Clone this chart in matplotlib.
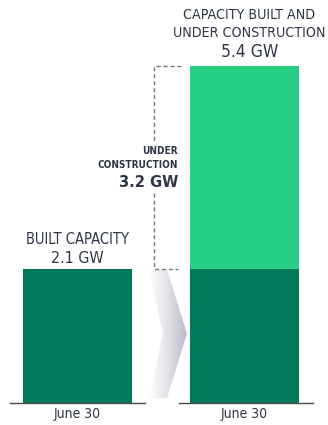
import matplotlib
matplotlib.use("Agg")
import matplotlib.pyplot as plt
import numpy as np
from matplotlib.patches import Polygon
from matplotlib.colors import LinearSegmentedColormap

categories = ["June 30", "June 30"]
built = [2.1, 2.1]
under_construction = [0, 3.2]
label_built = ["BUILT CAPACITY", "2.1 GW"]
label_under = ["UNDER", "CONSTRUCTION", "3.2 GW"]
label_total = ["CAPACITY BUILT AND", "UNDER CONSTRUCTION", "5.4 GW"]

plt.rcParams["font.family"] = ["DejaVu Sans"]
plt.rcParams["font.stretch"] = "condensed"

DARK = "#007a5a"
LIGHT = "#26cf84"
TXT = "#2f3747"

W, H = 328, 425
fig = plt.figure(figsize=(W / 100, H / 100), dpi=100)
ax = fig.add_axes([0, 0, 1, 1])
ax.axis("off")

px_x = 167.0
x0 = 77.5
total = built[1] + under_construction[1]
px_y = (403 - 66) / total
ax.set_xlim(-x0 / px_x, (W - x0) / px_x)
ax.set_ylim(-(H - 403) / px_y, 403 / px_y)

x = np.arange(len(categories))
width = 109 / px_x
ax.bar(x, built, width=width, color=DARK, zorder=3)
ax.bar(x, under_construction, bottom=built, width=width, color=LIGHT, zorder=3)

def dx(p):
    return p / px_x

def dy(p):
    return p / px_y

kw = dict(textcoords="offset points", color=TXT, fontstretch="condensed")

# baselines
ax.plot([x[0] - dx(67.5), x[0] + dx(67.5)], [0, 0], color="#4a4a4a", lw=1, zorder=4)
ax.plot([x[1] - dx(65.5), x[1] + dx(68.5)], [0, 0], color="#4a4a4a", lw=1, zorder=4)

# x labels
for xi, c in zip(x, categories):
    ax.annotate(c, (xi, 0), xytext=(0, -3), ha="center", va="top", fontsize=10, **kw)

# built label
ax.annotate(label_built[0], (x[0], built[0]), xytext=(0, 16), ha="center",
            va="bottom", fontsize=10.5, **kw)
ax.annotate(label_built[1], (x[0], built[0]), xytext=(0, 2.5), ha="center",
            va="bottom", fontsize=11.5, **kw)

# total label
tx = x[1] + dx(5)
ax.annotate(label_total[0], (tx, total), xytext=(0, 31.5), ha="center",
            va="bottom", fontsize=10.2, **kw)
ax.annotate(label_total[1], (tx, total), xytext=(0, 19), ha="center",
            va="bottom", fontsize=10.2, **kw)
ax.annotate(label_total[2], (tx, total), xytext=(0, 3.5), ha="center",
            va="bottom", fontsize=12.5, **kw)

# dashed bracket
bx = x[1] - width / 2 - dx(36)
ax.plot([x[1] - width / 2 - dx(9), bx, bx], [total, total, total - dy(75)],
        ls=(0, (3, 2)), color="#777777", lw=1, zorder=4)
ax.plot([bx, bx, x[1] - width / 2 - dx(12)], [total - dy(127), built[1], built[1]],
        ls=(0, (3, 2)), color="#777777", lw=1, zorder=4)

# under construction label
ux = x[1] - width / 2 - dx(12)
uy = total - dy(80)
ax.annotate(label_under[0], (ux, uy), xytext=(0, 0), ha="right", va="top",
            fontsize=7.2, fontweight="bold", **kw)
ax.annotate(label_under[1], (ux, uy), xytext=(0, -10), ha="right", va="top",
            fontsize=7.2, fontweight="bold", **kw)
ax.annotate(label_under[2], (ux, uy), xytext=(0, -21), ha="right", va="top",
            fontsize=11.8, fontweight="bold", **kw)

# chevron arrow with gradient
cl = x[0] + width / 2 + dx(17)
top_y = built[0]
bot_y = dy(5)
mid_y = (top_y + bot_y) / 2
pts = [(cl, top_y), (cl + dx(18), top_y), (cl + dx(38), mid_y),
       (cl + dx(18), bot_y), (cl, bot_y), (cl + dx(14), mid_y)]
poly = Polygon(pts, closed=True, facecolor="none", edgecolor="none")
ax.add_patch(poly)
grad = np.linspace(0, 1, 256).reshape(1, -1)
cmap = LinearSegmentedColormap.from_list("g", ["#ffffff", "#e0e0e8", "#bcbccb"])
im = ax.imshow(grad, extent=[cl, cl + dx(38), bot_y, top_y], cmap=cmap,
               aspect="auto", zorder=2)
im.set_clip_path(poly)

fig.savefig("out.png", dpi=100)
